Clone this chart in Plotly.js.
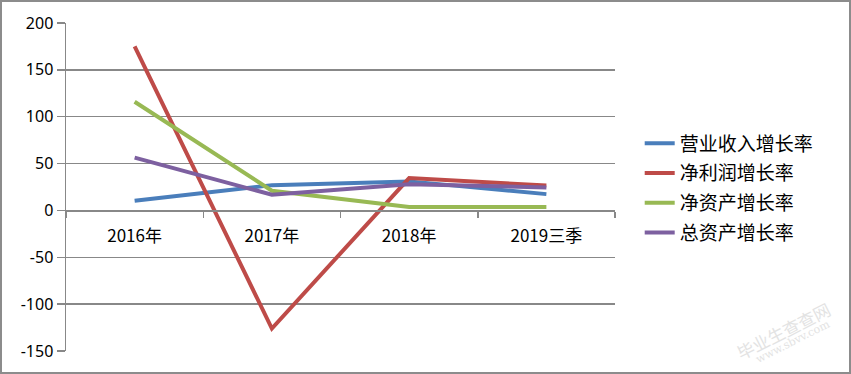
<!DOCTYPE html>
<html>
<head>
<meta charset="utf-8">
<script src="https://cdn.plot.ly/plotly-3.0.1.min.js"></script>
<style>
html,body{margin:0;padding:0;background:#fff;}
#wrap{position:relative;width:851px;height:374px;}
#chart{width:851px;height:374px;}
#frame{position:absolute;left:0;top:0;width:851px;height:374px;box-sizing:border-box;border:2px solid #8c8c8c;pointer-events:none;z-index:10;}
</style>
</head>
<body>
<div id="wrap"><div id="chart"></div><div id="frame"></div></div>
<script>
var categories = ["2016年", "2017年", "2018年", "2019三季"];
var seriesNames = ["营业收入增长率", "净利润增长率", "净资产增长率", "总资产增长率"];
var revenueGrowth = [10.3, 27, 31, 17.4];
var profitGrowth = [175, -126, 34.5, 26.6];
var netAssetGrowth = [116, 21, 3.6, 3.6];
var totalAssetGrowth = [56.4, 16.7, 28, 24.5];
var yTicks = [-150, -100, -50, 0, 50, 100, 150, 200];
var yTickText = ["-150", "-100", "-50", "0", "50", "100", "150", "200"];

var colors = ["#4A7EBB", "#BE4B48", "#98B954", "#7D60A0"];
var seriesValues = [revenueGrowth, profitGrowth, netAssetGrowth, totalAssetGrowth];

var traces = seriesValues.map(function(v, i){
  return {
    type: "scatter", mode: "lines",
    x: categories, y: v, name: seriesNames[i], legendgroup: "g" + i,
    line: {color: colors[i], width: 4}
  };
});

var layout = {
  width: 851, height: 374,
  margin: {l: 66, r: 236, t: 23, b: 23},
  paper_bgcolor: "#fff", plot_bgcolor: "#fff",
  showlegend: true,
  legend: {
    x: 1.045, xanchor: "left", y: 0.497, yanchor: "middle",
    font: {family: "Noto Sans CJK SC", size: 19, color: "#000"},
    bgcolor: "rgba(0,0,0,0)", tracegroupgap: 2
  },
  xaxis: {
    type: "category", anchor: "free", position: 150/350,
    showline: true, linecolor: "#888888", linewidth: 1.5,
    ticks: "outside", ticklen: 6, tickcolor: "#888888", tickwidth: 1.5,
    tickson: "boundaries", showgrid: false, zeroline: false,
    ticklabelstandoff: 10,
    tickfont: {family: "Noto Sans CJK SC, Noto Sans", size: 17, color: "#000"},
    range: [-0.5, 3.5], fixedrange: true
  },
  yaxis: {
    range: [-150, 200], tickvals: yTicks, ticktext: yTickText,
    showgrid: true, gridcolor: "#888888", gridwidth: 1.5,
    showline: true, linecolor: "#888888", linewidth: 1.5,
    ticks: "outside", ticklen: 8, tickcolor: "#888888", tickwidth: 1.5,
    zeroline: false,
    tickfont: {family: "Noto Sans, Liberation Sans", size: 16, color: "#000"},
    fixedrange: true
  },
  annotations: [
    {xref: "paper", yref: "paper", x: (783-66)/549, y: (351-330)/328, xanchor: "center", yanchor: "middle",
     text: "毕业生查查网", showarrow: false, textangle: -27,
     font: {family: "Noto Sans CJK SC", size: 17, color: "#e3e3e3"}},
    {xref: "paper", yref: "paper", x: (793-66)/549, y: (351-341)/328, xanchor: "center", yanchor: "middle",
     text: "www.sbvv.com", showarrow: false, textangle: -27,
     font: {family: "DejaVu Serif", size: 11, color: "#e3e3e3"}}
  ]
};

Plotly.newPlot("chart", traces, layout, {displayModeBar: false, staticPlot: true});
</script>
</body>
</html>
